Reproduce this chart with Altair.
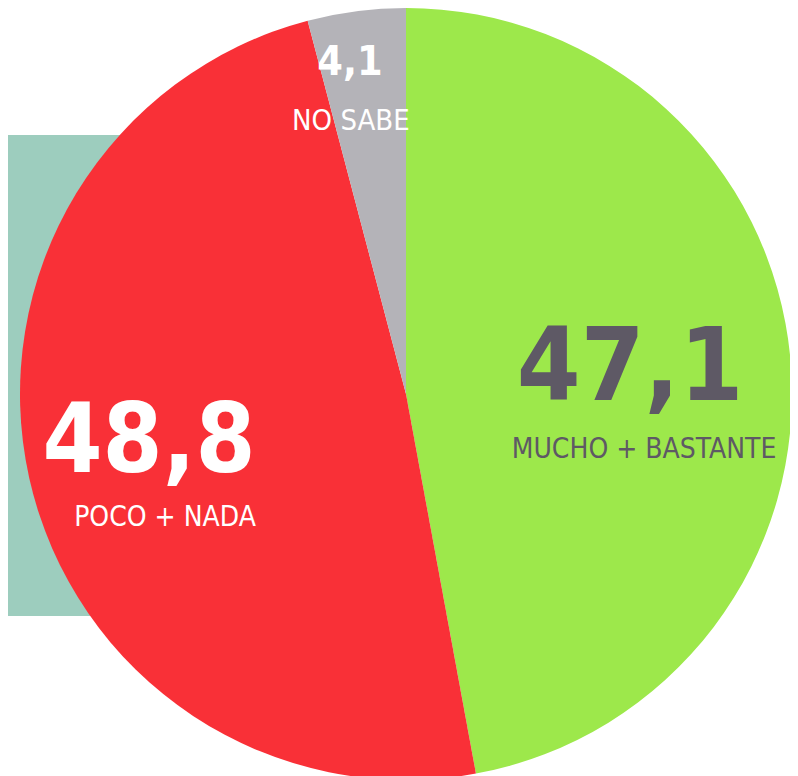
import altair as alt
import pandas as pd

categories = ["MUCHO + BASTANTE", "POCO + NADA", "NO SABE"]
values = [47.1, 48.8, 4.1]
value_labels = ["47,1", "48,8", "4,1"]
colors = ["#9de84b", "#f93037", "#b4b3b8"]
text_colors = ["#5e5965", "#ffffff", "#ffffff"]

df = pd.DataFrame({"cat": categories, "value": values, "lab": value_labels})
df["end"] = df["value"].cumsum()
df["start"] = df["end"] - df["value"]
df["mid"] = (df["start"] + df["end"]) / 2

FONT = "DejaVu Sans Condensed"
CX, CY, R = 398, 386, 386
theta_scale = alt.Scale(domain=[0, 100])

base = alt.Chart(df)

backdrop = alt.Chart(pd.DataFrame({"k": [0]})).mark_rect(color="#9dcdbe").encode(
    x=alt.value(0), x2=alt.value(142), y=alt.value(127), y2=alt.value(608)
)

pie = base.mark_arc(radius=R).encode(
    theta=alt.Theta("start:Q", scale=theta_scale),
    theta2="end:Q",
    color=alt.Color("cat:N", scale=alt.Scale(domain=categories, range=colors), legend=None),
    x=alt.value(CX),
    y=alt.value(CY),
)

# per-slice label placement: (radius, number dx, dy, size, label dx, dy, label size)
place = {
    "MUCHO + BASTANTE": (230, -5, 27, 102, 9, 85, 28),
    "POCO + NADA": (250, -13, 23, 96, 3, 77, 28),
    "NO SABE": (320, -15, -2, 41, -14, 53, 29),
}

layers = [backdrop, pie]
for cat, tcol in zip(categories, text_colors):
    rad, ndx, ndy, nsize, ldx, ldy, lsize = place[cat]
    sub = base.transform_filter(alt.datum.cat == cat)
    enc = dict(
        theta=alt.Theta("mid:Q", scale=theta_scale),
        radius=alt.value(rad),
        x=alt.value(CX),
        y=alt.value(CY),
    )
    layers.append(
        sub.mark_text(font=FONT, fontWeight="bold", fontSize=nsize, color=tcol,
                      align="center", baseline="alphabetic", dx=ndx, dy=ndy)
        .encode(text="lab:N", **enc)
    )
    layers.append(
        sub.mark_text(font=FONT, fontSize=lsize, color=tcol,
                      align="center", baseline="alphabetic", dx=ldx, dy=ldy)
        .encode(text="cat:N", **enc)
    )

chart = alt.layer(*layers).properties(
    width=782, height=768, autosize=alt.AutoSizeParams(type="none"), padding=0
).configure_view(stroke=None)

chart.save("out.html", embed_options={"renderer": "svg", "actions": False})
